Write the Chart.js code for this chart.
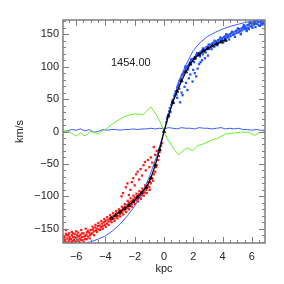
<!DOCTYPE html>
<html>
<head>
<meta charset="utf-8">
<script src="https://cdn.jsdelivr.net/npm/chart.js@4/dist/chart.umd.min.js"></script>
<style>
  html, body { margin: 0; padding: 0; background: #fff; }
  #wrap { width: 284px; height: 284px; }
</style>
</head>
<body>
<div id="wrap"><canvas id="rcChart"></canvas></div>
<script>
// receding side (x > 0), blue dots
const blueDots = [
  [0.15,14],[0.2,20],[0.3,26],[0.35,31],[0.4,36],[0.5,41],[0.55,46],[0.6,49],[0.7,55],[0.75,58],
  [0.8,62],[0.9,68],[0.95,71],[1.0,74],[1.1,80],[1.15,82],[1.2,86],[1.3,89],[1.35,92],[1.4,94],
  [1.5,97],[1.55,99],[1.6,101],[1.7,103],[1.75,106],[1.8,107],[1.9,109],[1.95,112],[2.0,111],[2.1,115],
  [2.15,113],[2.2,118],[2.3,117],[2.35,121],[2.4,119],[2.5,123],[2.55,121],[2.6,125],[2.7,124],[2.75,128],
  [2.8,126],[2.9,130],[2.95,127],[3.0,131],[3.1,129],[3.15,134],[3.2,131],[3.3,136],[3.35,133],[3.4,137],
  [3.5,135],[3.55,139],[3.6,137],[3.7,141],[3.75,138],[3.8,142],[3.9,140],[3.95,144],[4.0,141],[4.1,146],
  [4.15,143],[4.2,147],[4.3,145],[4.35,149],[4.4,146],[4.5,150],[4.55,147],[4.6,152],[4.7,149],[4.75,153],
  [4.8,150],[4.9,155],[4.95,152],[5.0,156],[5.1,153],[5.15,158],[5.2,155],[5.3,159],[5.35,156],[5.4,161],
  [5.5,158],[5.55,162],[5.6,159],[5.7,164],[5.75,160],[5.8,165],[5.9,162],[5.95,167],[6.0,163],[6.1,168],
  [6.15,165],[6.2,170],[6.3,166],[6.35,171],[6.4,168],[6.5,172],[6.55,169],[6.6,173],[6.7,170],[6.75,172],
  [6.8,168],[6.85,173],[6.05,160],[6.45,164],[6.65,166],[5.25,150],[5.65,155],[4.25,140],[3.45,131],[2.65,119],
  [0.45,30],[0.65,44],[0.85,57],[1.05,78],[1.25,88],[1.45,100],[1.65,96],[1.85,111],[2.05,107],[2.25,121],
  [2.45,116],[2.65,128],[2.85,122],[3.05,134],[3.25,127],[3.45,140],[3.65,133],[3.85,145],[4.05,137],[4.25,150],
  [4.45,142],[4.65,154],[4.85,146],[5.05,159],[5.25,151],[5.45,164],[5.65,156],[5.85,168],[6.05,166],[6.25,161],
  [6.35,174],[6.45,171],[6.55,163],[6.65,174],[6.75,167],[6.85,170],[6.88,165],[6.6,170],[6.2,167],[5.8,158],
  [5.5,160],[6.4,172],[6.8,174],[6.7,165],[6.9,172],
  // stragglers below the main band
  [0.9,52],[1.05,66],[1.1,45],[1.2,60],[1.27,56],[1.4,69],[1.5,75],[1.6,64],[1.7,82],[1.8,88],
  [1.95,77],[2.0,95],[2.1,90],[2.2,85],[2.3,97],[2.4,104],[2.5,107],[2.6,110],[2.8,113],[3.0,117]
];

// approaching side (x < 0), red dots
const redDots = [
  [-6.85,-170],[-6.8,-163],[-6.75,-167],[-6.7,-158],[-6.65,-171],[-6.6,-165],[-6.55,-160],[-6.5,-168],[-6.45,-163],[-6.4,-171],
  [-6.35,-166],[-6.3,-160],[-6.25,-169],[-6.2,-163],[-6.15,-167],[-6.1,-158],[-6.05,-170],[-6.0,-164],[-5.95,-160],[-5.9,-167],
  [-5.85,-162],[-5.8,-170],[-5.75,-165],[-5.7,-159],[-5.6,-163],[-5.55,-168],[-5.5,-157],[-5.45,-162],[-5.4,-166],[-5.3,-159],
  [-5.25,-155],[-5.2,-162],[-5.1,-156],[-5.05,-160],[-5.0,-152],[-4.9,-157],[-4.85,-151],[-4.8,-154],[-4.7,-148],[-4.65,-153],
  [-4.6,-150],[-4.5,-146],[-4.45,-151],[-4.4,-145],[-4.3,-148],[-4.25,-142],[-4.2,-146],[-4.1,-140],[-4.05,-144],[-4.0,-138],
  [-3.9,-142],[-3.85,-136],[-3.8,-139],[-3.7,-134],[-3.65,-138],[-3.6,-132],[-3.5,-135],[-3.45,-130],[-3.4,-134],[-3.3,-128],
  [-3.25,-132],[-3.2,-126],[-3.1,-130],[-3.05,-123],[-3.0,-127],[-2.9,-121],[-2.85,-125],[-2.8,-118],[-2.7,-122],[-2.65,-116],
  [-2.6,-119],[-2.5,-113],[-2.45,-118],[-2.4,-110],[-2.3,-115],[-2.25,-108],[-2.2,-112],[-2.1,-105],[-2.05,-109],[-2.0,-102],
  [-1.9,-106],[-1.85,-100],[-1.8,-104],[-1.7,-97],[-1.6,-100],[-1.55,-94],[-1.5,-98],[-1.4,-91],[-1.3,-94],[-1.25,-87],
  [-1.2,-90],[-1.1,-83],[-1.0,-86],[-0.95,-78],[-0.9,-80],[-0.8,-72],[-0.75,-76],[-0.7,-66],[-0.6,-62],[-0.55,-55],
  [-0.5,-52],[-0.4,-44],[-0.35,-38],[-0.3,-32],[-0.2,-22],[-0.15,-18],
  [-6.7,-152],[-6.3,-155],[-6.0,-154],[-5.65,-152],[-5.35,-150],[-6.5,-172],[-6.1,-172],[-5.75,-172],
  [-6.88,-165],[-6.78,-171],[-6.62,-160],[-6.48,-157],[-6.42,-166],[-6.28,-171],[-6.22,-157],[-6.12,-163],[-5.98,-169],[-5.88,-156],
  [-5.78,-161],[-5.68,-167],[-5.58,-157],[-5.48,-171],[-5.38,-161],[-5.28,-166],[-5.18,-153],[-5.08,-165],[-4.98,-158],[-4.88,-147],
  [-4.78,-160],[-4.68,-144],[-4.58,-155],[-4.48,-141],[-4.38,-152],[-4.28,-138],[-4.18,-150],[-4.08,-135],[-3.98,-147],[-3.88,-132],
  [-3.78,-144],[-3.68,-129],[-3.58,-140],[-3.48,-126],[-3.38,-138],[-3.28,-123],[-3.18,-134],[-3.08,-120],[-2.98,-131],[-2.88,-116],
  [-2.78,-128],[-2.68,-112],[-2.58,-124],[-2.48,-107],[-2.38,-120],[-2.28,-103],[-2.18,-116],[-2.08,-99],[-1.98,-112],[-1.88,-96],
  [-1.78,-108],[-1.68,-92],[-1.58,-104],[-1.48,-88],[-1.38,-99],[-1.28,-83],[-1.18,-95],[-1.08,-78],[-0.98,-90],
  // stragglers above the main band
  [-2.9,-100],[-2.8,-95],[-2.6,-86],[-2.5,-80],[-2.4,-98],[-2.3,-90],[-2.2,-78],[-2.1,-72],[-2.0,-83],[-1.9,-66],
  [-1.8,-62],[-1.7,-74],[-1.6,-58],[-1.5,-68],[-1.4,-52],[-1.3,-47],[-1.25,-60],[-1.1,-44],[-1.0,-55],[-0.9,-40],
  [-0.8,-48],[-0.7,-24],[-0.6,-36],[-0.5,-30]
];

// fitted rotation curve (black, triangles)
const curveX = [-3.6,-3.3,-3.0,-2.7,-2.4,-2.1,-1.8,-1.5,-1.2,-0.9,-0.6,-0.3,0,
                0.3,0.6,0.9,1.2,1.5,1.8,2.1,2.4,2.7,3.0,3.3,3.6,3.9,4.2];
const curveV = [-134,-129,-124,-119,-114,-108,-101,-94,-86,-72,-52,-28,0,
                24,45,62,78,92,104,113,119,124,128,132,135,138,141];

// model curve (thin blue)
const modelX = [-5.3,-5.0,-4.5,-4.0,-3.5,-3.0,-2.5,-2.0,-1.5,-1.0,-0.5,0,0.5,1.0,1.5,2.0,2.5,3.0,3.5,4.0,4.5,5.0,5.5,6.0,6.5,6.9];
const modelV = [-172,-170,-166,-161,-153,-143,-130,-115,-95,-70,-38,0,40,75,103,125,138,147,153,158,162,165,168,170,172,174];

// systemic / residual traces
const flatX = [-6.9,-6.6,-6.3,-6.0,-5.7,-5.4,-5.1,-4.8,-4.5,-4.2,-3.9,-3.6,-3.3,-3.0,-2.7,-2.4,-2.1,-1.8,-1.5,-1.2,-0.9,-0.6,-0.3,0,
               0.3,0.6,0.9,1.2,1.5,1.8,2.1,2.4,2.7,3.0,3.3,3.6,3.9,4.2,4.5,4.8,5.1,5.4,5.7,6.0,6.3,6.6,6.9];
const flatV = [0,1,3,2,4,1,3,-1,0,3,2,3,3,2,3,3,4,3,4,4,5,4,5,4,
               6,5,4,6,5,5,4,6,5,5,4,5,6,4,5,4,5,3,3,2,3,2,2];

const greenX = [-6.9,-6.6,-6.35,-6.0,-5.7,-5.4,-5.0,-4.7,-4.5,-4.3,-3.95,-3.5,-2.95,-2.6,-2.4,-2.05,-1.7,-1.45,-1.2,-0.9,-0.55,-0.2,0,
                0.2,0.37,0.7,1.0,1.3,1.6,1.95,2.3,2.7,3.2,3.6,4.2,4.8,5.3,5.8,6.0,6.2,6.5,6.9];
const greenV = [0,1,-2,-7,-2,-7,0,-2,-4,0,4,12,20,24,25,27,27,26,31,38,27,12,0,
                -11,-16,-28,-36,-30,-25,-30,-22,-19,-14,-11,-4,-2,-1,-1,-4,-6,-2,0];

const xTicks = [-6, -4, -2, 0, 2, 4, 6];
const yTicks = [-150, -100, -50, 0, 50, 100, 150];
const labelText = '1454.00';

const toPts = (xs, ys) => xs.map((x, i) => ({ x: x, y: ys[i] }));
const fromPairs = arr => arr.map(p => ({ x: p[0], y: p[1] }));

const FONT = { family: 'Liberation Sans, Arial, sans-serif', size: 11 };
const minus = v => String(v).replace('-', '\u2212');

// box with inward ticks on all four sides + the label text
const frame = {
  id: 'frame',
  afterDatasetsDraw(chart) {
    const { ctx, chartArea: a, scales: { x, y } } = chart;
    ctx.save();
    ctx.strokeStyle = '#7f7f7f';
    ctx.lineWidth = 1;
    ctx.beginPath();
    for (let v = -6.5; v <= 6.5; v += 0.5) {
      const px = Math.round(x.getPixelForValue(v)) + 0.5;
      const len = xTicks.includes(v) ? 6 : 3;
      ctx.moveTo(px, a.bottom); ctx.lineTo(px, a.bottom - len);
      ctx.moveTo(px, a.top); ctx.lineTo(px, a.top + len);
    }
    for (let v = -170; v <= 170; v += 10) {
      const py = Math.round(y.getPixelForValue(v)) + 0.5;
      const len = yTicks.includes(v) ? 6 : 3;
      ctx.moveTo(a.left, py); ctx.lineTo(a.left + len, py);
      ctx.moveTo(a.right, py); ctx.lineTo(a.right - len, py);
    }
    ctx.stroke();
    ctx.lineWidth = 1.5;
    ctx.strokeRect(a.left, a.top, a.right - a.left, a.bottom - a.top);

    ctx.fillStyle = '#222';
    ctx.font = '11px ' + FONT.family;
    ctx.textAlign = 'center';
    ctx.textBaseline = 'middle';
    ctx.fillText(labelText, x.getPixelForValue(-2.27), y.getPixelForValue(106));
    ctx.restore();
  }
};

new Chart(document.getElementById('rcChart'), {
  type: 'scatter',
  data: {
    datasets: [
      { label: 'fit', data: toPts(curveX, curveV), showLine: true, borderColor: '#000', borderWidth: 1.2,
        pointStyle: 'triangle', pointRadius: 1.8, pointBorderColor: '#000', pointBackgroundColor: 'rgba(0,0,0,0)',
        pointBorderWidth: 1, order: 0 },
      { label: 'resid', data: toPts(greenX, greenV), showLine: true, borderColor: '#66ee2a', borderWidth: 1,
        pointRadius: 0, order: 1 },
      { label: 'vsys', data: toPts(flatX, flatV), showLine: true, borderColor: '#3c5cff', borderWidth: 1,
        pointRadius: 0, order: 2 },
      { label: 'model', data: toPts(modelX, modelV), showLine: true, borderColor: '#3c5cff', borderWidth: 1,
        pointRadius: 0, order: 3 },
      { label: 'rec', data: fromPairs(blueDots), pointStyle: 'rect', pointRadius: 1.6, pointBorderWidth: 0,
        backgroundColor: '#1f4fff', order: 4 },
      { label: 'app', data: fromPairs(redDots), pointStyle: 'rect', pointRadius: 1.6, pointBorderWidth: 0,
        backgroundColor: '#ff1a1a', order: 5 }
    ]
  },
  options: {
    responsive: true,
    maintainAspectRatio: false,
    animation: false,
    events: [],
    layout: { padding: { left: 0, top: 20, right: 19, bottom: 0 } },
    datasets: { scatter: { clip: 0 } },
    plugins: { legend: { display: false }, tooltip: { enabled: false } },
    scales: {
      x: {
        type: 'linear', min: -6.9, max: 6.9,
        afterFit: s => { s.height = 41; },
        afterBuildTicks: s => { s.ticks = xTicks.map(v => ({ value: v })); },
        grid: { display: false, drawTicks: false },
        border: { display: false },
        ticks: { font: FONT, color: '#222', padding: 7, maxRotation: 0, callback: minus },
        title: { display: true, text: 'kpc', font: FONT, color: '#222', padding: { top: 0, bottom: 8 } }
      },
      y: {
        type: 'linear', min: -172, max: 172,
        afterFit: s => { s.width = 63; },
        afterBuildTicks: s => { s.ticks = yTicks.map(v => ({ value: v })); },
        grid: { display: false, drawTicks: false },
        border: { display: false },
        ticks: { font: FONT, color: '#222', padding: 4, callback: minus },
        title: { display: true, text: 'km/s', font: FONT, color: '#222', padding: { top: 13, bottom: 0 } }
      }
    }
  },
  plugins: [frame]
});
</script>
</body>
</html>
